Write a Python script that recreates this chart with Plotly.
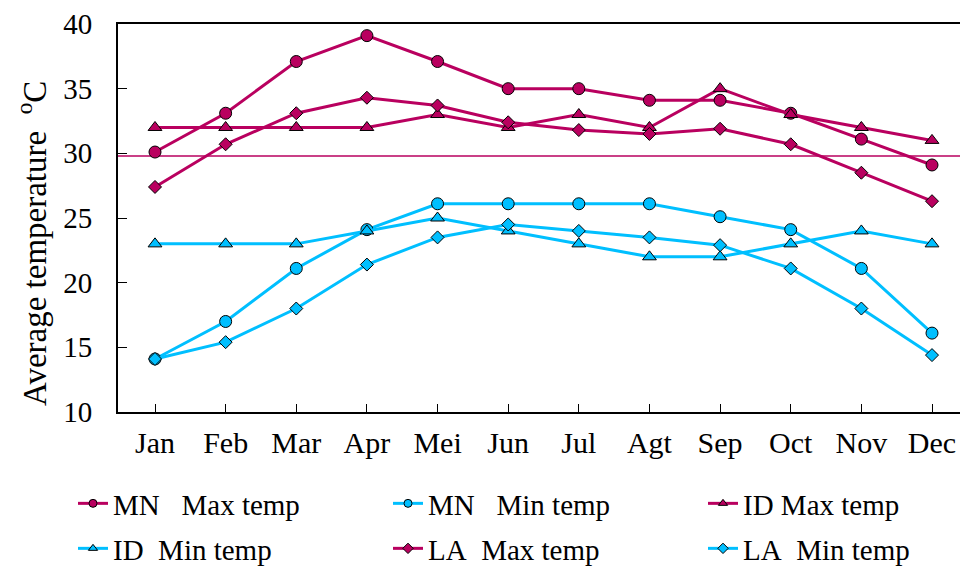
import plotly.graph_objects as go

months = ["Jan", "Feb", "Mar", "Apr", "Mei", "Jun", "Jul", "Agt", "Sep", "Oct", "Nov", "Dec"]
mn_max = [30.1, 33.1, 37.1, 39.1, 37.1, 35.0, 35.0, 34.1, 34.1, 33.1, 31.1, 29.1]
mn_min = [14.1, 17.0, 21.1, 24.1, 26.1, 26.1, 26.1, 26.1, 25.1, 24.1, 21.1, 16.1]
id_max = [32, 32, 32, 32, 33, 32, 33, 32, 35, 33, 32, 31]
id_min = [23, 23, 23, 24, 25, 24, 23, 22, 22, 23, 24, 23]
la_max = [27.4, 30.7, 33.1, 34.3, 33.7, 32.4, 31.8, 31.5, 31.9, 30.7, 28.5, 26.3]
la_min = [14.1, 15.4, 18.0, 21.4, 23.5, 24.5, 24.0, 23.5, 22.9, 21.1, 18.0, 14.4]
threshold = 29.8
y_ticks = [10, 15, 20, 25, 30, 35, 40]

MAG = "#B9005F"
CYA = "#00BFFF"
FONT = "Liberation Serif"
NB = "\u00a0"

x = list(range(len(months)))

# name, values, colour, symbol, marker size, legend column, legend row
series = [
    ("MN" + NB * 3 + "Max temp", mn_max, MAG, "circle", 12, 0, 0),
    ("MN" + NB * 3 + "Min temp", mn_min, CYA, "circle", 12, 1, 0),
    ("ID" + NB + "Max temp", id_max, MAG, "triangle-up", 12, 2, 0),
    ("ID" + NB * 2 + "Min temp", id_min, CYA, "triangle-up", 12, 0, 1),
    ("LA" + NB * 2 + "Max temp", la_max, MAG, "diamond", 10, 1, 1),
    ("LA" + NB * 2 + "Min temp", la_min, CYA, "diamond", 10, 2, 1),
]

W, H = 962, 566
L, T, B, R = 118, 24, 154, 2
pw = W - L - R
ph = H - T - B
unit = (932 - 155) / 11
x0 = -(155 - L) / unit
x1 = x0 + pw / unit

col_x = [73, 388, 703]
row_y = [478, 523]

fig = go.Figure()
legend_layouts = {}
for i, (name, vals, col, sym, sz, c, r) in enumerate(series):
    lid = "legend" if i == 0 else f"legend{i + 1}"
    fig.add_trace(go.Scatter(
        x=x, y=vals, name=name, mode="lines+markers",
        line=dict(color=col, width=3),
        marker=dict(symbol=sym, size=sz, color=col, line=dict(color="black", width=1)),
        showlegend=False,
    ))
    fig.add_trace(go.Scatter(
        x=[None], y=[None], name=name, mode="lines+markers",
        line=dict(color=col, width=3),
        marker=dict(symbol=sym, size=8, color=col, line=dict(color="black", width=1)),
        legend=lid, showlegend=True,
    ))
    legend_layouts[lid] = dict(
        orientation="h", xref="container", yref="container",
        x=col_x[c] / W, y=1 - row_y[r] / H, xanchor="left", yanchor="top",
        font=dict(family=FONT, size=29, color="black"), itemwidth=30,
        bgcolor="rgba(0,0,0,0)",
    )

fig.add_shape(type="line", xref="paper", x0=0, x1=1, yref="y", y0=threshold, y1=threshold,
              line=dict(color=MAG, width=1.5), layer="below")

fig.update_layout(
    width=W, height=H,
    margin=dict(l=L, r=R, t=T, b=B, autoexpand=False),
    paper_bgcolor="white", plot_bgcolor="white",
    font=dict(family=FONT, size=24, color="black"),
    xaxis=dict(
        range=[x0, x1], tickvals=x, ticktext=months,
        showline=True, linecolor="black", linewidth=2, mirror=True,
        ticks="inside", ticklen=8, tickcolor="black", tickwidth=1,
        showgrid=False, zeroline=False,
        tickfont=dict(family=FONT, size=30), ticklabelstandoff=3,
    ),
    yaxis=dict(
        range=[10, 40], tickvals=y_ticks,
        showline=True, linecolor="black", linewidth=2,
        ticks="inside", ticklen=9, tickcolor="black", tickwidth=1,
        showgrid=False, zeroline=False,
        tickfont=dict(family=FONT, size=29), ticklabelstandoff=18,
    ),
    showlegend=True,
    **legend_layouts,
)

fig.add_annotation(
    text="Average temperature " + NB + "<sup>o</sup>C", textangle=-90,
    xref="paper", yref="paper",
    x=(32 - L) / pw, y=(H - B - 244) / ph,
    showarrow=False, font=dict(family=FONT, size=33),
    xanchor="center", yanchor="middle",
)

fig.write_html(
    "out.html",
    config={"displayModeBar": False},
    post_script="document.body.style.margin='0';document.body.style.padding='0';",
)
